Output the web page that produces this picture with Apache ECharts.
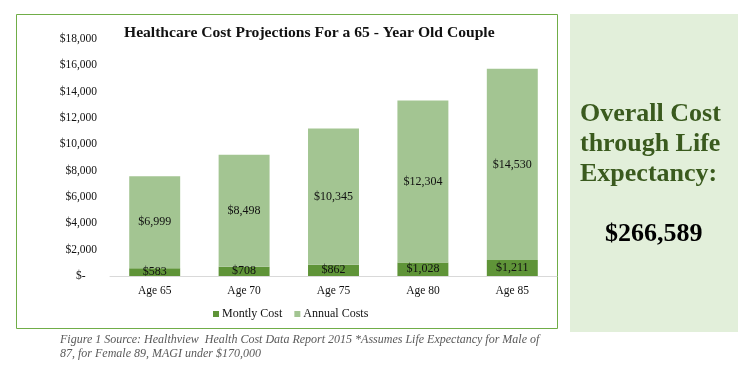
<!DOCTYPE html>
<html>
<head>
<meta charset="utf-8">
<script src="https://cdn.jsdelivr.net/npm/echarts@6/dist/echarts.min.js"></script>
<style>
html,body{margin:0;padding:0;background:#fff;}
#chart{width:746px;height:365px;}
</style>
</head>
<body>
<div id="chart"></div>
<script>
var categories = ['Age 65', 'Age 70', 'Age 75', 'Age 80', 'Age 85'];
var monthlyCost = [583, 708, 862, 1028, 1211];
var annualCosts = [6999, 8498, 10345, 12304, 14530];
var seriesNames = ['Montly Cost', 'Annual Costs'];
var titleText = 'Healthcare Cost Projections For a 65 - Year Old Couple';
var panelLines = ['Overall Cost', 'through Life', 'Expectancy:'];
var totalText = '$266,589';
var captionLines = ['Figure 1 Source: Healthview  Health Cost Data Report 2015 *Assumes Life Expectancy for Male of', '87, for Female 89, MAGI under $170,000'];

var serif = '"Liberation Serif", "DejaVu Serif", serif';
function money(v) {
  if (v === 0) return '$-\u2002\u2002';
  return '$' + v.toLocaleString('en-US');
}

var chart = echarts.init(document.getElementById('chart'), null, {renderer: 'canvas'});
var graphics = [
  {type: 'rect', shape: {x: 16.5, y: 14.5, width: 541, height: 314}, style: {fill: '#fff', stroke: '#70AD47', lineWidth: 1}, z: -10},
  {type: 'rect', shape: {x: 570, y: 14, width: 168, height: 318}, style: {fill: '#E2EFDA'}, z: -10},
  {type: 'text', left: 124, top: 25, style: {text: titleText, font: 'bold 15.6px ' + serif, fill: '#111'}}
];
panelLines.forEach(function (t, i) {
  graphics.push({type: 'text', left: 580, top: 101 + i * 30, style: {text: t, font: 'bold 26px ' + serif, fill: '#3A5A1E'}});
});
graphics.push({type: 'text', left: 605, top: 221, style: {text: totalText, font: 'bold 26px ' + serif, fill: '#000'}});
captionLines.forEach(function (t, i) {
  graphics.push({type: 'text', left: 60, top: 334 + i * 14, style: {text: t, font: 'italic 12px ' + serif, fill: '#595959'}});
});

chart.setOption({
  animation: false,
  backgroundColor: '#fff',
  graphic: graphics,
  grid: {left: 110, right: 189, top: 39, bottom: 89},
  legend: {
    data: seriesNames, left: 208, top: 303, icon: 'rect', itemWidth: 6, itemHeight: 6, itemGap: 12,
    textStyle: {fontFamily: serif, fontSize: 12, color: '#111', padding: [0, 0, 0, -2]}
  },
  xAxis: {
    type: 'category', data: categories,
    axisLine: {lineStyle: {color: '#D9D9D9'}}, axisTick: {show: false},
    axisLabel: {fontFamily: serif, fontSize: 11.5, color: '#111', margin: 9}
  },
  yAxis: {
    type: 'value', min: 0, max: 18000, interval: 2000,
    splitLine: {show: false}, axisLine: {show: false}, axisTick: {show: false},
    axisLabel: {fontFamily: serif, fontSize: 11.5, color: '#111', margin: 13, formatter: money}
  },
  series: [
    {name: seriesNames[0], type: 'bar', stack: 't', data: monthlyCost, barWidth: '57%',
      itemStyle: {color: '#5F9438'},
      label: {show: true, position: 'inside', fontFamily: serif, fontSize: 12, color: '#111', formatter: function (p) { return money(p.value); }}},
    {name: seriesNames[1], type: 'bar', stack: 't', data: annualCosts, barWidth: '57%',
      itemStyle: {color: '#A3C592'},
      label: {show: true, position: 'inside', fontFamily: serif, fontSize: 12, color: '#111', formatter: function (p) { return money(p.value); }}}
  ]
});
</script>
</body>
</html>
